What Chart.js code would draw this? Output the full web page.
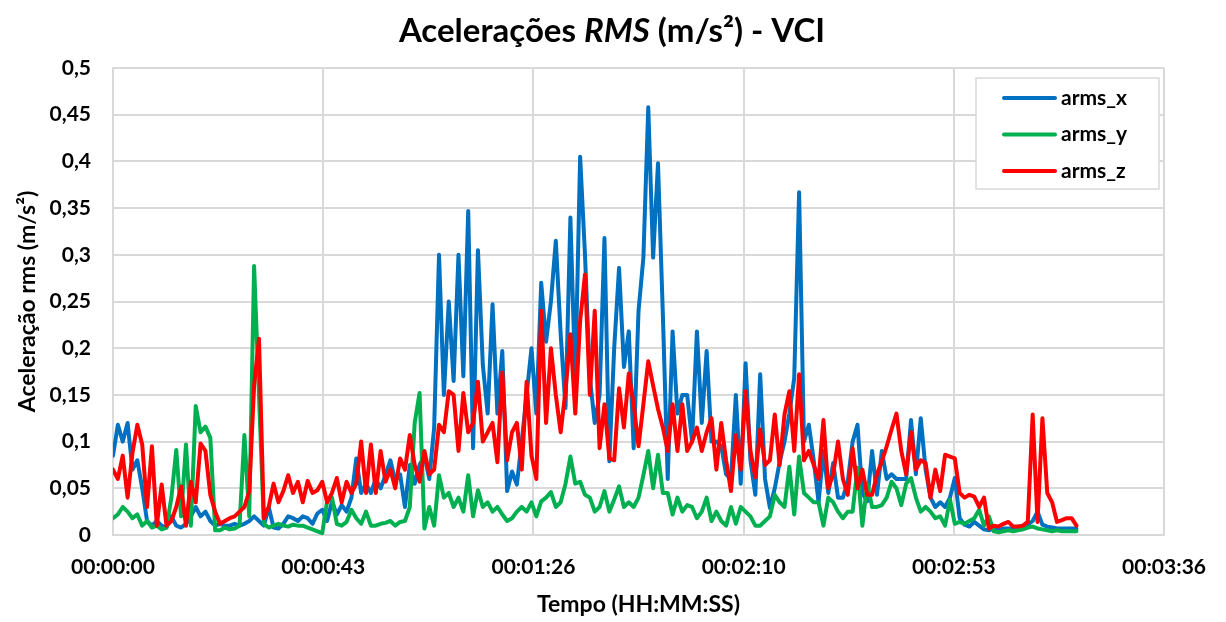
<!DOCTYPE html>
<html>
<head>
<meta charset="utf-8">
<script src="https://cdn.jsdelivr.net/npm/chart.js@4.4.1/dist/chart.umd.min.js"></script>
<style>
  html, body { margin: 0; padding: 0; background: #fff; }
  canvas { display: block; }
</style>
</head>
<body>
<canvas id="grafico" width="1226" height="622"></canvas>
<script>
// tempo em segundos (1 amostra por segundo)
const tempo = [
  0,1,2,3,4,5,6,7,8,9,10,11,12,13,14,15,16,17,18,19,
  20,21,22,23,24,25,26,27,28,29,30,31,32,33,34,35,36,37,38,39,
  40,41,42,43,44,45,46,47,48,49,50,51,52,53,54,55,56,57,58,59,
  60,61,62,63,64,65,66,67,68,69,70,71,72,73,74,75,76,77,78,79,
  80,81,82,83,84,85,86,87,88,89,90,91,92,93,94,95,96,97,98,99,
  100,101,102,103,104,105,106,107,108,109,110,111,112,113,114,115,116,117,118,119,
  120,121,122,123,124,125,126,127,128,129,130,131,132,133,134,135,136,137,138,139,
  140,141,142,143,144,145,146,147,148,149,150,151,152,153,154,155,156,157,158,159,
  160,161,162,163,164,165,166,167,168,169,170,171,172,173,174,175,176,177,178,179,
  180,181,182,183,184,185,186,187,188,189,190,191,192,193,194,195,196,197,198
];

const arms_x = [
  0.085, 0.118, 0.10, 0.12, 0.07, 0.08, 0.05, 0.015, 0.01, 0.015,
  0.01, 0.008, 0.02, 0.01, 0.008, 0.012, 0.02, 0.03, 0.02, 0.025,
  0.015, 0.01, 0.012, 0.01, 0.01, 0.012, 0.01, 0.012, 0.015, 0.02,
  0.015, 0.01, 0.03, 0.008, 0.007, 0.012, 0.02, 0.018, 0.015, 0.02,
  0.018, 0.012, 0.023, 0.027, 0.015, 0.036, 0.022, 0.032, 0.025, 0.04,
  0.082, 0.045, 0.055, 0.045, 0.06, 0.05, 0.064, 0.08, 0.058, 0.065,
  0.03, 0.075, 0.055, 0.075, 0.085, 0.06, 0.115, 0.30, 0.15, 0.25,
  0.165, 0.30, 0.17, 0.347, 0.093, 0.305, 0.182, 0.13, 0.247, 0.13,
  0.197, 0.047, 0.068, 0.054, 0.1, 0.15, 0.2, 0.13, 0.27, 0.207,
  0.25, 0.315, 0.215, 0.136, 0.34, 0.165, 0.405, 0.3, 0.168, 0.12,
  0.15, 0.318, 0.079, 0.2, 0.286, 0.18, 0.218, 0.093, 0.24, 0.297,
  0.458, 0.297, 0.398, 0.236, 0.06, 0.218, 0.13, 0.15, 0.15, 0.1,
  0.218, 0.12, 0.197, 0.1, 0.1, 0.095, 0.065, 0.06, 0.15, 0.055,
  0.184, 0.08, 0.043, 0.172, 0.06, 0.029, 0.05, 0.078, 0.1, 0.13,
  0.168, 0.367, 0.1, 0.118, 0.08, 0.035, 0.09, 0.045, 0.077, 0.04,
  0.04, 0.057, 0.1, 0.118, 0.045, 0.036, 0.09, 0.043, 0.09, 0.06,
  0.065, 0.06, 0.06, 0.06, 0.123, 0.065, 0.125, 0.07, 0.04, 0.03,
  0.035, 0.03, 0.04, 0.061, 0.018, 0.011, 0.009, 0.014, 0.01, 0.006,
  0.005, 0.007, 0.005, 0.007, 0.007, 0.007, 0.009, 0.01, 0.011, 0.015,
  0.025, 0.011, 0.009, 0.008, 0.007, 0.007, 0.007, 0.007, 0.007
];

const arms_y = [
  0.018, 0.022, 0.03, 0.025, 0.018, 0.022, 0.01, 0.015, 0.008, 0.01,
  0.006, 0.008, 0.04, 0.091, 0.02, 0.097, 0.01, 0.138, 0.11, 0.116,
  0.104, 0.005, 0.005, 0.008, 0.006, 0.007, 0.01, 0.107, 0.02, 0.288,
  0.15, 0.012, 0.008, 0.01, 0.012, 0.01, 0.009, 0.011, 0.01, 0.01,
  0.008, 0.006, 0.004, 0.002, 0.036, 0.04, 0.012, 0.01, 0.014, 0.027,
  0.018, 0.012, 0.025, 0.01, 0.01, 0.012, 0.013, 0.015, 0.01, 0.014,
  0.015, 0.03, 0.12, 0.152, 0.007, 0.03, 0.01, 0.064, 0.04, 0.045,
  0.03, 0.04, 0.025, 0.064, 0.02, 0.048, 0.03, 0.035, 0.025, 0.03,
  0.022, 0.015, 0.018, 0.025, 0.03, 0.025, 0.035, 0.02, 0.036, 0.04,
  0.046, 0.03, 0.035, 0.055, 0.084, 0.055, 0.057, 0.043, 0.04, 0.025,
  0.03, 0.047, 0.025, 0.038, 0.052, 0.03, 0.035, 0.03, 0.04, 0.064,
  0.09, 0.05, 0.086, 0.045, 0.045, 0.022, 0.04, 0.025, 0.032, 0.03,
  0.018, 0.025, 0.04, 0.015, 0.025, 0.015, 0.01, 0.03, 0.012, 0.03,
  0.025, 0.02, 0.01, 0.01, 0.015, 0.02, 0.043, 0.035, 0.03, 0.073,
  0.022, 0.084, 0.045, 0.04, 0.035, 0.035, 0.01, 0.04, 0.035, 0.025,
  0.018, 0.025, 0.025, 0.072, 0.01, 0.055, 0.03, 0.03, 0.032, 0.04,
  0.057, 0.05, 0.032, 0.055, 0.061, 0.04, 0.025, 0.03, 0.025, 0.018,
  0.02, 0.01, 0.038, 0.012, 0.014, 0.012, 0.015, 0.018, 0.027, 0.01,
  0.02, 0.004, 0.003, 0.004, 0.005, 0.004, 0.005, 0.006, 0.008, 0.009,
  0.007, 0.006, 0.005, 0.004, 0.005, 0.004, 0.004, 0.004, 0.004
];

const arms_z = [
  0.07, 0.06, 0.085, 0.04, 0.088, 0.118, 0.097, 0.03, 0.095, 0.01,
  0.054, 0.01, 0.015, 0.03, 0.052, 0.01, 0.057, 0.035, 0.098, 0.09,
  0.043, 0.025, 0.012, 0.015, 0.018, 0.02, 0.025, 0.03, 0.047, 0.16,
  0.21, 0.018, 0.03, 0.055, 0.035, 0.047, 0.064, 0.045, 0.057, 0.035,
  0.058, 0.045, 0.048, 0.057, 0.035, 0.045, 0.061, 0.035, 0.057, 0.045,
  0.055, 0.1, 0.045, 0.097, 0.045, 0.09, 0.057, 0.07, 0.05, 0.082,
  0.07, 0.107, 0.075, 0.057, 0.09, 0.065, 0.07, 0.118, 0.11, 0.154,
  0.15, 0.09, 0.152, 0.11, 0.12, 0.164, 0.1, 0.11, 0.12, 0.078,
  0.174, 0.08, 0.11, 0.12, 0.07, 0.164, 0.085, 0.06, 0.24, 0.12,
  0.2, 0.15, 0.11, 0.155, 0.215, 0.13, 0.229, 0.279, 0.15, 0.24,
  0.093, 0.14, 0.082, 0.08, 0.157, 0.115, 0.173, 0.14, 0.095, 0.14,
  0.186, 0.16, 0.135, 0.115, 0.09, 0.14, 0.09, 0.14, 0.09, 0.1,
  0.115, 0.09, 0.11, 0.125, 0.07, 0.12, 0.08, 0.047, 0.107, 0.07,
  0.154, 0.09, 0.062, 0.113, 0.075, 0.08, 0.129, 0.075, 0.129, 0.154,
  0.09, 0.172, 0.08, 0.09, 0.075, 0.06, 0.123, 0.05, 0.065, 0.1,
  0.06, 0.043, 0.093, 0.05, 0.07, 0.043, 0.043, 0.065, 0.079, 0.095,
  0.113, 0.13, 0.09, 0.065, 0.11, 0.07, 0.08, 0.077, 0.04, 0.07,
  0.047, 0.086, 0.084, 0.082, 0.045, 0.04, 0.043, 0.041, 0.03, 0.04,
  0.007, 0.01, 0.009, 0.012, 0.014, 0.009, 0.009, 0.01, 0.014, 0.129,
  0.014, 0.125, 0.045, 0.035, 0.014, 0.016, 0.018, 0.018, 0.01
];

// eixo do tempo: 0 a 0,0025 dia (216 s), unidade principal 43,2 s
const ticksTempo = [0, 43.2, 86.4, 129.6, 172.8, 216];
const rotulosTempo = ['00:00:00', '00:00:43', '00:01:26', '00:02:10', '00:02:53', '00:03:36'];
const ticksAcel = [0, 0.05, 0.1, 0.15, 0.2, 0.25, 0.3, 0.35, 0.4, 0.45, 0.5];

const fonte = 'Lato, "Open Sans", sans-serif';
const cinza = '#d9d9d9';

function pontos(serie) {
  return tempo.map((t, i) => ({ x: t, y: serie[i] }));
}

// titulo com "RMS" em italico
const tituloPlugin = {
  id: 'titulo',
  afterDraw(chart) {
    const ctx = chart.ctx;
    const partes = [
      { txt: 'Acelerações ', f: 'bold 33px ' + fonte },
      { txt: 'RMS', f: 'italic bold 33px ' + fonte },
      { txt: ' (m/s²) - VCI', f: 'bold 33px ' + fonte }
    ];
    ctx.save();
    let total = 0;
    partes.forEach(p => { ctx.font = p.f; p.w = ctx.measureText(p.txt).width; total += p.w; });
    let x = 612 - total / 2;
    ctx.fillStyle = '#000';
    ctx.textBaseline = 'alphabetic';
    partes.forEach(p => { ctx.font = p.f; ctx.fillText(p.txt, x, 42); x += p.w; });
    ctx.restore();
  }
};

// legenda dentro da area do grafico, como no Excel
const legendaPlugin = {
  id: 'legendaCaixa',
  afterDraw(chart) {
    const ctx = chart.ctx;
    const bx = 976, by = 78, bw = 183, bh = 111;
    ctx.save();
    ctx.fillStyle = '#fff';
    ctx.fillRect(bx, by, bw, bh);
    ctx.strokeStyle = cinza;
    ctx.lineWidth = 1.5;
    ctx.strokeRect(bx, by, bw, bh);
    ctx.font = 'bold 21px ' + fonte;
    ctx.textBaseline = 'middle';
    chart.data.datasets.forEach((ds, i) => {
      const y = 98 + i * 36.5;
      ctx.strokeStyle = ds.borderColor;
      ctx.lineWidth = 4;
      ctx.lineCap = 'round';
      ctx.beginPath();
      ctx.moveTo(1004, y);
      ctx.lineTo(1055, y);
      ctx.stroke();
      ctx.fillStyle = '#000';
      ctx.fillText(ds.label, 1061, y);
    });
    ctx.restore();
  }
};

new Chart(document.getElementById('grafico'), {
  type: 'line',
  data: {
    datasets: [
      { label: 'arms_x', data: pontos(arms_x), borderColor: '#0070C0', order: 3 },
      { label: 'arms_y', data: pontos(arms_y), borderColor: '#00B050', order: 2 },
      { label: 'arms_z', data: pontos(arms_z), borderColor: '#FF0000', order: 1 }
    ]
  },
  options: {
    responsive: false,
    animation: false,
    devicePixelRatio: 1,
    layout: { padding: { top: 68, right: 56, left: 0, bottom: 0 } },
    elements: {
      line: { borderWidth: 4, tension: 0, borderJoinStyle: 'round', borderCapStyle: 'round' },
      point: { radius: 0 }
    },
    plugins: {
      legend: { display: false },
      title: { display: false },
      tooltip: { enabled: false }
    },
    scales: {
      x: {
        type: 'linear',
        min: 0,
        max: 216,
        afterBuildTicks: s => { s.ticks = ticksTempo.map(v => ({ value: v })); },
        afterFit: s => { s.height = 87; },
        ticks: {
          callback: (v, i) => rotulosTempo[i],
          font: { family: fonte, size: 21, weight: 'bold' },
          color: '#000',
          padding: 20,
          maxRotation: 0,
          autoSkip: false
        },
        grid: { color: cinza, lineWidth: 2, drawTicks: false },
        border: { color: cinza, width: 2 },
        title: {
          display: true,
          text: 'Tempo (HH:MM:SS)',
          font: { family: fonte, size: 23, weight: 'bold' },
          color: '#000',
          padding: { top: 0, bottom: 4 }
        }
      },
      y: {
        min: 0,
        max: 0.5,
        afterBuildTicks: s => { s.ticks = ticksAcel.map(v => ({ value: v })); },
        afterFit: s => { s.width = 113; },
        ticks: {
          callback: v => String(Math.round(v * 100) / 100).replace('.', ','),
          font: { family: fonte, size: 21, weight: 'bold' },
          color: '#000',
          padding: 22
        },
        grid: { color: cinza, lineWidth: 2, drawTicks: false },
        border: { color: cinza, width: 2 },
        title: {
          display: true,
          text: 'Aceleração rms (m/s²)',
          font: { family: fonte, size: 23, weight: 'bold' },
          color: '#000',
          padding: { top: 14, bottom: 0 }
        }
      }
    }
  },
  plugins: [tituloPlugin, legendaPlugin]
});
</script>
</body>
</html>
